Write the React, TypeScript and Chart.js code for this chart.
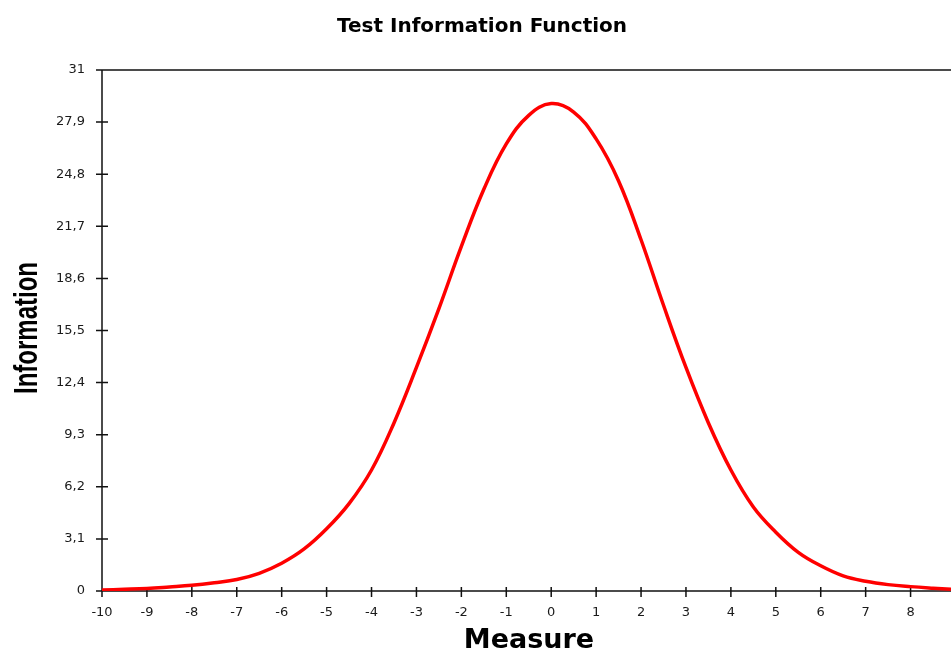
import React, { useEffect, useRef } from "react";
import { Chart, registerables } from "chart.js";

Chart.register(...registerables);

const MEASURE = [
  -10, -9.5, -9, -8.5, -8, -7.5, -7, -6.5, -6, -5.5, -5, -4.5, -4, -3.5, -3, -2.5, -2, -1.5, -1, -0.5,
  0, 0.5, 1, 1.5, 2, 2.5, 3, 3.5, 4, 4.5, 5, 5.5, 6, 6.5, 7, 7.5, 8, 8.5, 8.9,
];
const INFORMATION = [
  0.06, 0.1, 0.15, 0.24, 0.34, 0.49, 0.68, 1.05, 1.65, 2.5, 3.7, 5.2, 7.2, 10.0, 13.3, 16.8, 20.5, 23.9, 26.6, 28.3,
  29.0, 28.5, 26.9, 24.4, 20.9, 17.0, 13.3, 10.0, 7.2, 5.0, 3.5, 2.3, 1.5, 0.9, 0.58, 0.38, 0.26, 0.17, 0.11,
];
const X_TICKS = [-10, -9, -8, -7, -6, -5, -4, -3, -2, -1, 0, 1, 2, 3, 4, 5, 6, 7, 8];
const Y_TICKS = [0, 3.1, 6.2, 9.3, 12.4, 15.5, 18.6, 21.7, 24.8, 27.9, 31];
const Y_TICK_LABELS = ["0", "3,1", "6,2", "9,3", "12,4", "15,5", "18,6", "21,7", "24,8", "27,9", "31"];
const TITLE = "Test Information Function";
const X_TITLE = "Measure";
const Y_TITLE = "Information";

export default function App() {
  const ref = useRef<HTMLCanvasElement>(null);

  useEffect(() => {
    document.body.style.margin = "0";
    const canvas = ref.current;
    if (!canvas) return;

    const framePlugin = {
      id: "frame",
      beforeDatasetsDraw(chart: any) {
        const { ctx, chartArea: a, scales } = chart;
        const xs = scales.x;
        const ys = scales.y;
        ctx.save();
        ctx.strokeStyle = "#111";
        ctx.lineWidth = 1.5;
        ctx.beginPath();
        ctx.moveTo(a.left, a.top);
        ctx.lineTo(a.right, a.top);
        ctx.moveTo(a.left, a.top);
        ctx.lineTo(a.left, a.bottom);
        ctx.lineTo(a.right, a.bottom);
        ys.ticks.forEach((t: any) => {
          const p = ys.getPixelForValue(t.value);
          ctx.moveTo(a.left - 6, p);
          ctx.lineTo(a.left + 6, p);
        });
        xs.ticks.forEach((t: any) => {
          const p = xs.getPixelForValue(t.value);
          ctx.moveTo(p, a.bottom - 4);
          ctx.lineTo(p, a.bottom + 6);
        });
        ctx.stroke();
        ctx.restore();
      },
      afterDraw(chart: any) {
        const { ctx } = chart;
        ctx.save();
        ctx.fillStyle = "#000";
        ctx.textAlign = "center";
        ctx.textBaseline = "alphabetic";
        ctx.font = "bold 20px 'DejaVu Sans', sans-serif";
        ctx.fillText(TITLE, 482, 31.5);
        ctx.font = "bold 27px 'DejaVu Sans', sans-serif";
        ctx.fillText(X_TITLE, 529, 648);
        ctx.font = "bold 33px 'Liberation Sans', Arial, sans-serif";
        const w = ctx.measureText(Y_TITLE).width;
        ctx.translate(37, 328);
        ctx.rotate(-Math.PI / 2);
        ctx.scale(132 / w, 1);
        ctx.fillText(Y_TITLE, 0, 0);
        ctx.restore();
      },
    };

    const tickFont = { family: "'DejaVu Sans', sans-serif", size: 13 };

    const chart = new Chart(canvas, {
      type: "line",
      data: {
        datasets: [
          {
            data: MEASURE.map((m, i) => ({ x: m, y: INFORMATION[i] })),
            borderColor: "#ff0000",
            borderWidth: 3.5,
            pointRadius: 0,
            tension: 0.4,
            fill: false,
          },
        ],
      },
      options: {
        responsive: false,
        animation: false,
        layout: { padding: { top: 70, left: 0, right: 0, bottom: 0 } },
        plugins: {
          legend: { display: false },
          title: { display: false },
          tooltip: { enabled: false },
        },
        scales: {
          x: {
            type: "linear",
            min: -10,
            max: 8.9,
            grid: { display: false, drawTicks: false },
            border: { display: false },
            afterBuildTicks: (s: any) => {
              s.ticks = X_TICKS.map((v) => ({ value: v }));
            },
            afterFit: (s: any) => {
              s.height = 59;
            },
            ticks: {
              padding: 14,
              font: tickFont,
              color: "#1a1a1a",
              autoSkip: false,
              maxRotation: 0,
              callback: (v: any) => String(v),
            },
          },
          y: {
            type: "linear",
            min: 0,
            max: 31,
            grid: { display: false, drawTicks: false },
            border: { display: false },
            afterBuildTicks: (s: any) => {
              s.ticks = Y_TICKS.map((v) => ({ value: v }));
            },
            afterFit: (s: any) => {
              s.width = 102;
            },
            ticks: {
              padding: 17,
              font: tickFont,
              color: "#1a1a1a",
              autoSkip: false,
              callback: (_v: any, i: number) => Y_TICK_LABELS[i],
            },
          },
        },
      } as any,
      plugins: [framePlugin],
    });

    return () => chart.destroy();
  }, []);

  return (
    <canvas
      ref={ref}
      width={951}
      height={650}
      style={{ display: "block", width: 951, height: 650 }}
    />
  );
}
